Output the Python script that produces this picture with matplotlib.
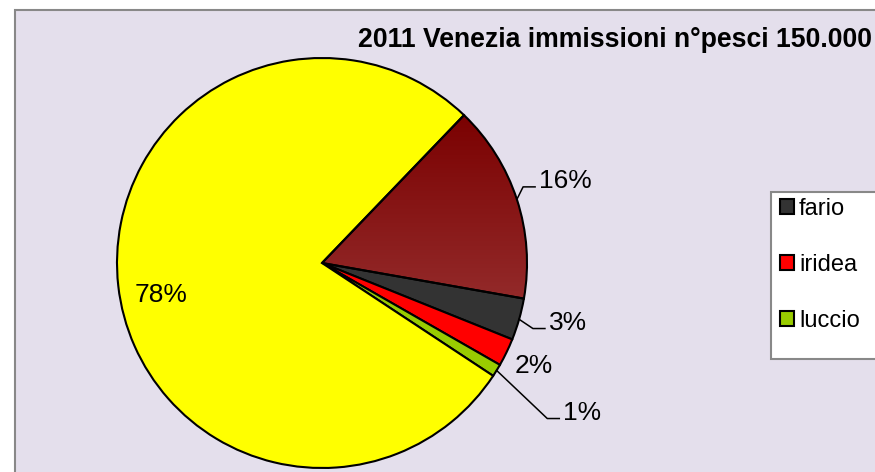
import numpy as np
import matplotlib
matplotlib.use('Agg')
from matplotlib import pyplot as plt
from matplotlib.patches import Rectangle
from matplotlib.colors import LinearSegmentedColormap

plt.rcParams['font.family'] = ['Liberation Sans', 'DejaVu Sans']

title = "2011 Venezia immissioni n°pesci 150.000"
# slices in drawing order (clockwise); only the first three names show in the legend
species = ['fario', 'iridea', 'luccio', 'altro', 'altro 2']
shares = [3.3, 2.2, 1.0, 77.9, 15.6]
colors = ['#333333', '#ff0000', '#99cc00', '#ffff00', '#8b1a1a']
n_legend = 3

# label placement (left edge, baseline) in pie units, and whether a leader line is drawn
label_pos = [(1.107, -0.327), (0.941, -0.538), (1.177, -0.766), (-0.912, -0.189), (1.059, 0.364)]
leader = [True, False, True, False, True]

W, H = 875, 472
cx, cy, R = 322, 263, 205   # pie centre and radius in pixels

fig = plt.figure(figsize=(W / 100, H / 100), dpi=100)
fig.patch.set_facecolor('white')

# plot area background
fig.patches.append(Rectangle((15 / W, -0.1), 1.2, 1 - 10 / H + 0.1, transform=fig.transFigure,
                             facecolor='#e4dfec', edgecolor='#888888', lw=1.5, zorder=-1))

ax = fig.add_axes([0, 0, 1, 1])
wedges, _ = ax.pie(shares, colors=colors, startangle=-10, counterclock=False, radius=1,
                   wedgeprops={'edgecolor': 'black', 'linewidth': 1.5})

# gradient fill on the dark red slice
cmap = LinearSegmentedColormap.from_list('dr', ['#7a0000', '#952d2d'])
grad = np.linspace(0, 1, 256).reshape(-1, 1)
im = ax.imshow(grad, extent=(-0.2, 1.1, -0.25, 0.75), cmap=cmap, aspect='auto', zorder=0.5)
im.set_clip_path(wedges[4])
wedges[4].set_facecolor('none')

total = sum(shares)
for w, v, (lx, ly), ld in zip(wedges, shares, label_pos, leader):
    ax.text(lx, ly, '{:.0f}%'.format(100 * v / total), fontsize=19, ha='left', va='baseline')
    if ld:
        mid = np.deg2rad((w.theta1 + w.theta2) / 2)
        ex, ey = np.cos(mid), np.sin(mid)
        ax.plot([ex, lx - 16 / R, lx - 4 / R], [ey, ly + 1.5 / R, ly + 1.5 / R], color='black', lw=1.1)

ax.set_xlim(-cx / R, (W - cx) / R)
ax.set_ylim(-(H - cy) / R, cy / R)
ax.axis('off')

fig.text(358 / W, 1 - 47 / H, title, fontsize=19.2, fontweight='bold', va='baseline')

# legend box (runs past the right edge like the original)
fig.patches.append(Rectangle((771 / W, 1 - 359 / H), 0.2, (359 - 192) / H, transform=fig.transFigure,
                             facecolor='white', edgecolor='#888888', lw=1.5, zorder=1))
fig.legend(handles=wedges[:n_legend], labels=species[:n_legend], loc='upper left',
           bbox_to_anchor=(780 / W, 1 - 198 / H), frameon=False, fontsize=17,
           handlelength=0.6, handleheight=0.6, handletextpad=0.2, labelspacing=1.44,
           borderpad=0, borderaxespad=0)

fig.savefig('out.png', dpi=100)
